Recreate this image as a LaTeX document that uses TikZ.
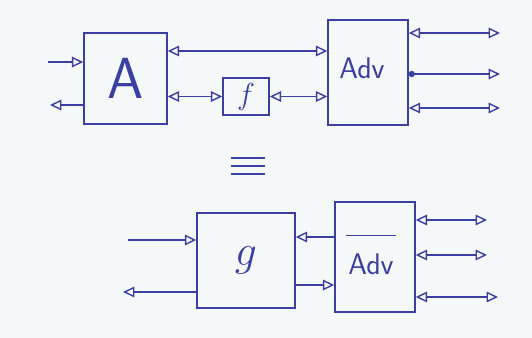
\documentclass[tikz,border=0pt]{standalone}
\usetikzlibrary{arrows.meta}
\definecolor{Cinkblue}{HTML}{3A3FA0}
\definecolor{Cpaper}{HTML}{F5F8F8}

\begin{document}
\begin{tikzpicture}[x=0.02cm,y=-0.02cm,
	box/.style={draw=Cinkblue,line width=0.8pt,inner sep=0pt,text=Cinkblue},
	wire/.style={Cinkblue,line width=0.8pt},
	tip/.style={-{Triangle[open,length=6.5pt,width=6pt]}},
	tips/.style={{Triangle[open,length=6.5pt,width=6pt]}-{Triangle[open,length=6.5pt,width=6pt]}},
	lbl/.style={text=Cinkblue,font=\sffamily\fontsize{17}{17}\selectfont}]
		\fill[Cpaper] (0,0) rectangle (532,338);
		\useasboundingbox (0,0) rectangle (532,338);
		% upper half
		\node[box,minimum width=1.66cm,minimum height=1.82cm,font=\sffamily\fontsize{33}{33}\selectfont] (A) at (125.5,78.5) {A};
		\node[box,minimum width=0.92cm,minimum height=0.74cm,font=\fontsize{18}{18}\selectfont] (f) at (246,96.5) {$f$};
		\node[box,minimum width=1.6cm,minimum height=2.1cm] (adv) at (368,72.5) {};
		\node[lbl] (advtext) at (362,68) {Adv};
		\coordinate (ain) at (48,62);
		\coordinate (aout) at (50,105);
		\coordinate (chtop) at (0,51);
		\coordinate (o1) at (500,33);
		\coordinate (o2) at (500,74);
		\coordinate (o3) at (500,108);
		\draw[wire,tip] (ain) -- (A.west |- ain);
		\draw[wire,tip] (A.west |- aout) -- (aout);
		\draw[wire,tips] (A.east |- chtop) -- (adv.west |- chtop);
		\draw[wire,tips] (A.east |- f.west) -- (f.west);
		\draw[wire,tips] (f.east) -- (adv.west |- f.east);
		\draw[wire,tips] (adv.east |- o1) -- (o1);
		\draw[wire,{Circle[length=3.5pt]}-{Triangle[open,length=6.5pt,width=6pt]}] (adv.east |- o2) -- (o2);
		\draw[wire,tips] (adv.east |- o3) -- (o3);
		% equivalence
		\foreach \yy in {158,166,174}
			\draw[wire] (231,\yy) -- (265,\yy);
		% lower half
		\node[box,minimum width=1.96cm,minimum height=1.9cm,font=\fontsize{24}{24}\selectfont] (g) at (246,260.5) {$g$};
		\node[box,minimum width=1.6cm,minimum height=2.2cm] (advbar) at (375,257) {};
		\node[lbl,inner sep=1pt] (advbartext) at (371,264) {Adv};
		\draw[wire,line width=1pt] ([yshift=9pt]advbartext.north west) -- ([yshift=9pt]advbartext.north east);
		\coordinate (gin) at (128,240);
		\coordinate (gout) at (123,292);
		\coordinate (chup) at (0,237);
		\coordinate (chdown) at (0,285);
		\coordinate (p1) at (487,220);
		\coordinate (p2) at (487,255);
		\coordinate (p3) at (498,297);
		\draw[wire,tip] (gin) -- (g.west |- gin);
		\draw[wire,tip] (g.west |- gout) -- (gout);
		\draw[wire,tip] (advbar.west |- chup) -- (g.east |- chup);
		\draw[wire,tip] (g.east |- chdown) -- (advbar.west |- chdown);
		\draw[wire,tips] (advbar.east |- p1) -- (p1);
		\draw[wire,tips] (advbar.east |- p2) -- (p2);
		\draw[wire,tips] (advbar.east |- p3) -- (p3);
	\end{tikzpicture}
\end{document}
